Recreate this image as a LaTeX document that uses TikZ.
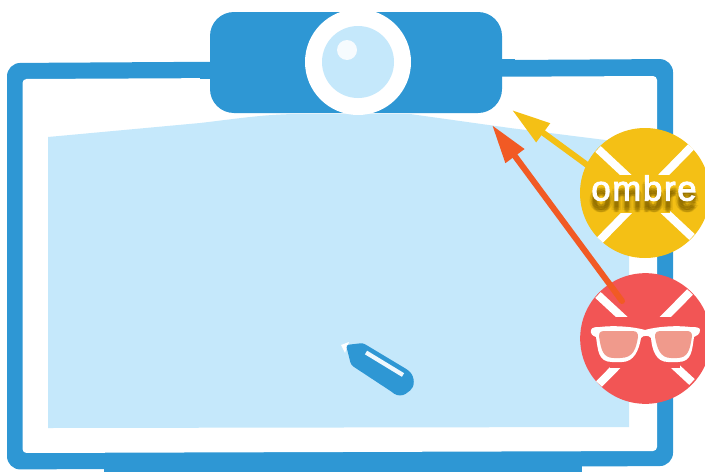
\documentclass[tikz,border=0pt]{standalone}
\usepackage{fontspec}
\setmainfont{Liberation Sans}
\newfontfamily\motfont[FakeBold=3,LetterSpace=5]{Liberation Sans}
\usepackage{xcolor}
\usetikzlibrary{arrows.meta}
\definecolor{bleu}{HTML}{2E97D4}
\definecolor{clair}{HTML}{C5E8FB}
\definecolor{jaune}{HTML}{F4C015}
\definecolor{rouge}{HTML}{F25555}
\definecolor{orange}{HTML}{F15A24}
\definecolor{rose}{HTML}{F09A8C}
\definecolor{ombreT}{HTML}{7A5C00}
\tikzset{
  badge/.style={circle,inner sep=0pt,minimum size=97.5pt},
  croix/.style={white,line width=6pt},
  fleche/.style={line width=4.5pt,line cap=round,-{Triangle[length=29pt,width=16.5pt]}},
  mot/.style={font=\motfont\fontsize{26pt}{26pt}\selectfont,inner sep=0pt,anchor=base}
}
\begin{document}
\begin{tikzpicture}[x=0.75pt,y=-0.75pt]
  \useasboundingbox (0,0) rectangle (705,471);
  % pied et cadre
  \fill[bleu] (104,455) rectangle (582,472);
  \fill[bleu,rounded corners=10pt] (7,63) -- (673,59) -- (673,466) -- (7,469.5) -- cycle;
  \fill[white,rounded corners=3pt] (22.5,79) -- (657,76) -- (657,451) -- (22.5,453) -- cycle;
  \fill[bleu] (200,62) rectangle (215,79);
  \fill[bleu] (495,59) rectangle (515,76);
  % zone vue
  \fill[clair] (48,137) -- (200,123) .. controls (235,119) and (265,114) .. (300,114)
    -- (410,114) -- (510,128) -- (629,143)
    -- (629,427) -- (48,428) -- cycle;
  % camera
  \fill[bleu,rounded corners=18pt] (210,12) rectangle (502,113);
  \fill[white] (358,62) circle (53);
  \fill[clair] (358,62) circle (36);
  \fill[white!85!clair] (347,50) circle (10);
  % stylet
  \fill[white] (341,345) -- (349,342) -- (345,353) -- cycle;
  \fill[bleu,rounded corners=2pt] (346,345) -- (363,343) -- (408,370)
    .. controls (415,377) and (415,387) .. (408,392)
    .. controls (403,396) and (397,396) .. (392,392)
    -- (351,365) -- cycle;
  \draw[white!70!clair,line width=3.2pt] (366,352.5) -- (403,375);
  % badge ombre
  \node[badge,fill=jaune] (ombre) at (645,193) {};
  \coordinate (pointeO) at (512,110);
  \draw[fleche,jaune] (ombre.154) -- (pointeO);
  \draw[croix] (598,149) -- (692,237);
  \draw[croix] (691,147) -- (600,240);
  \fill[jaune] (620,175) rectangle (670,213);
  \foreach \dx/\dy in {-2/7,-1/9,0/6,0/8,0/10,0/11,1/9,2/7,1/6,-1/11,1/11,-3/9,3/9}{
    \node[mot,ombreT,opacity=0.09] at (644+\dx,200.5+\dy) {ombre};
  }
  \node[mot,white] (mot) at (644,200.5) {ombre};
  % badge lunettes
  \node[badge,fill=rouge,minimum size=98pt] (lunettes) at (645.5,338.5) {};
  \draw[croix] (598,295) -- (692,382);
  \draw[croix] (690,292) -- (599,384);
  \fill[rouge] (610,317) rectangle (680,368);
  \fill[white] (591,330) .. controls (592,327) and (596,327) .. (600,327)
    .. controls (615,325) and (635,327) .. (645,330)
    .. controls (655,327) and (675,325) .. (690,327)
    .. controls (695,327) and (700,327) .. (700,330)
    .. controls (700,334) and (697,336) .. (694,337)
    .. controls (692,350) and (692,362) .. (678,362)
    -- (668,362) .. controls (656,362) and (652,350) .. (651,338)
    .. controls (649,335) and (643,335) .. (641,338)
    .. controls (639,350) and (634,362) .. (622,362)
    -- (612,362) .. controls (598,362) and (598,350) .. (596,337)
    .. controls (593,336) and (590,334) .. (591,330) -- cycle;
  \fill[rose] (599,336) .. controls (599,331) and (602,331) .. (606,331)
    -- (632,331) .. controls (637,331) and (638,333) .. (638,337)
    .. controls (636,348) and (634,358) .. (620,358)
    -- (614,358) .. controls (603,358) and (601,350) .. (599,336) -- cycle;
  \fill[rose] (655,337) .. controls (655,333) and (656,331) .. (661,331)
    -- (686,331) .. controls (690,331) and (692,332) .. (692,336)
    .. controls (690,350) and (688,358) .. (677,358)
    -- (671,358) .. controls (660,358) and (657,348) .. (655,337) -- cycle;
  \coordinate (departL) at (622,301);
  \coordinate (pointeL) at (492,125);
  \draw[fleche,orange] (departL) -- (pointeL);
\end{tikzpicture}
\end{document}
